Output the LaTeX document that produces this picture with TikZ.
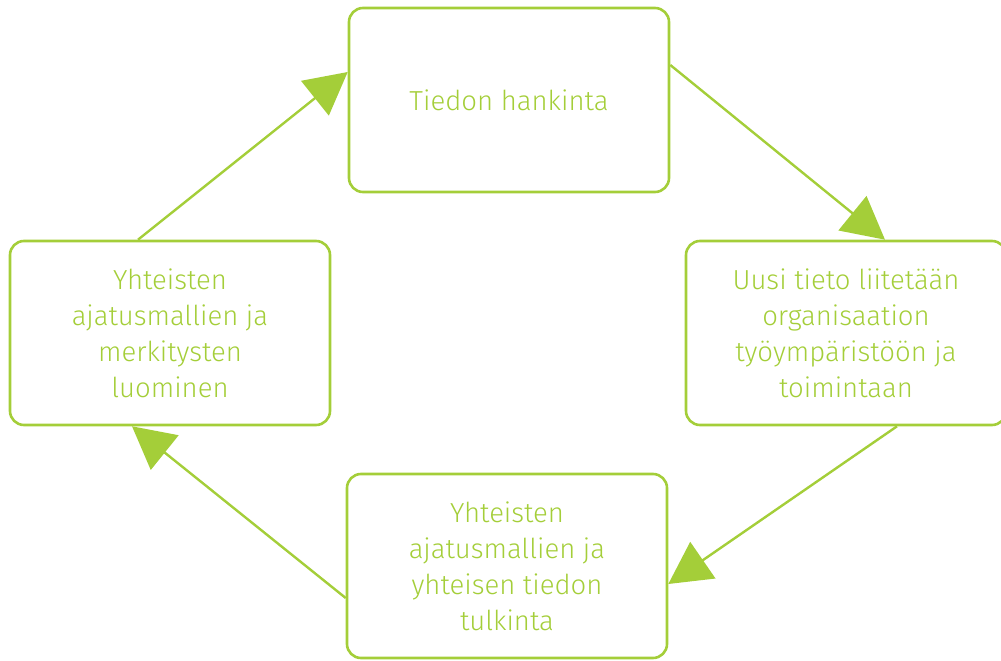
\documentclass[tikz,border=0pt]{standalone}
\usepackage{fontspec}
\setmainfont{Fira Sans Light}
\usetikzlibrary{arrows.meta, positioning}
\definecolor{limegreen}{HTML}{A4CE39}
\tikzset{
  stagebox/.style = {rectangle, draw=limegreen, line width=2.6pt, rounded corners=14pt, minimum width=320pt, minimum height=184pt, align=center, text=limegreen, font=\fontsize{27.5}{36}\selectfont},
  cyclearrow/.style = {draw=limegreen, line width=2.4pt, -{Triangle[length=42pt, width=44pt, fill=limegreen]}}
}
\begin{document}
\begin{tikzpicture}[x=1pt, y=-1pt]
    \useasboundingbox (0,0) rectangle (1001,661);
    \node[stagebox] (hankinta) at (509,100) {Tiedon hankinta};
    \node[stagebox] (liitetaan) at (846,333) {Uusi tieto liitetään\\organisaation\\työympäristöön ja\\toimintaan};
    \node[stagebox] (tulkinta) at (507,566) {Yhteisten\\ajatusmallien ja\\yhteisen tiedon\\tulkinta};
    \node[stagebox] (luominen) at (170,333) {Yhteisten\\ajatusmallien ja\\merkitysten\\luominen};
    % kierto myötäpäivään
    \draw[cyclearrow] ([yshift=35pt]hankinta.east) -- ([xshift=39pt]liitetaan.north);
    \draw[cyclearrow] ([xshift=51pt]liitetaan.south) -- ([yshift=-18pt]tulkinta.east);
    \draw[cyclearrow] ([yshift=-32pt]tulkinta.west) -- ([xshift=-38pt]luominen.south);
    \draw[cyclearrow] ([xshift=-32pt]luominen.north) -- ([yshift=28pt]hankinta.west);
\end{tikzpicture}
\end{document}
